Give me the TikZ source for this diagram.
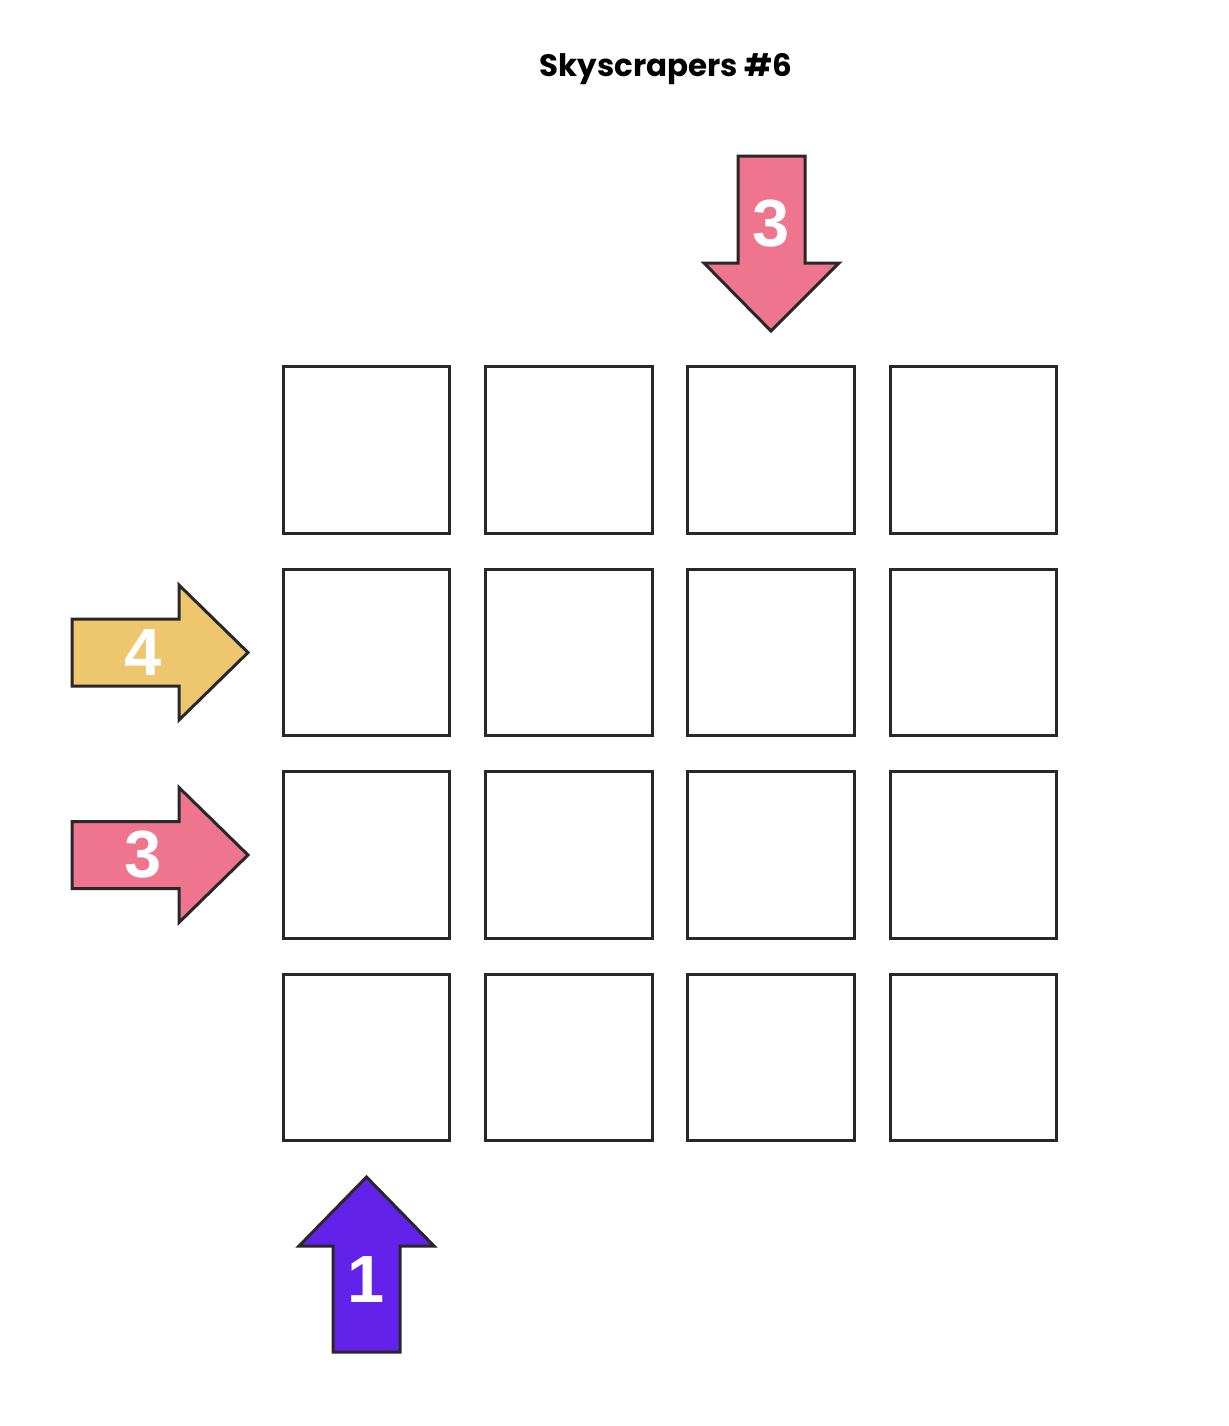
\documentclass[tikz,border=0pt]{standalone}
\usepackage{fontspec}
\setmainfont{Liberation Sans}
\newfontfamily\titlefont{Poppins}
\usepackage{tikz}
\usetikzlibrary{positioning,calc}
\definecolor{pinkA}{RGB}{238,117,141}
\definecolor{yellowA}{RGB}{238,198,109}
\definecolor{purpleA}{RGB}{99,34,233}
\definecolor{darkline}{RGB}{40,40,40}

\begin{document}
\begin{tikzpicture}
  [x=0.02cm,y=-0.02cm,
   cellN/.style={rectangle,draw=darkline,line width=0.06cm,minimum size=3.34cm,inner sep=0pt,fill=white},
   arrowS/.style={draw=darkline,line width=0.06cm,line join=miter},
   digitN/.style={text=white,font=\fontsize{38}{40}\selectfont\bfseries,inner sep=0pt},
   titleN/.style={font=\titlefont\fontsize{17.6}{20}\selectfont\bfseries}]

  \useasboundingbox (0,0) rectangle (1228,1426);

  \node[titleN] (title) at (666,69) {Skyscrapers \#6};

  % grid
  \node[cellN] (c11) at (366.5,450) {}; \node[cellN] (c12) at (569,450) {};
  \node[cellN] (c13) at (771,450) {};   \node[cellN] (c14) at (973.5,450) {};

  \node[cellN] (c21) at (366.5,652.5) {}; \node[cellN] (c22) at (569,652.5) {};
  \node[cellN] (c23) at (771,652.5) {};   \node[cellN] (c24) at (973.5,652.5) {};

  \node[cellN] (c31) at (366.5,855) {}; \node[cellN] (c32) at (569,855) {};
  \node[cellN] (c33) at (771,855) {};   \node[cellN] (c34) at (973.5,855) {};

  \node[cellN] (c41) at (366.5,1057.5) {}; \node[cellN] (c42) at (569,1057.5) {};
  \node[cellN] (c43) at (771,1057.5) {};   \node[cellN] (c44) at (973.5,1057.5) {};

  % clues
  \draw[arrowS,fill=pinkA] (738,156) -- (805,156) -- (805,263) -- (839,263)
    -- (771,331) -- (704,263) -- (738,263) -- cycle;
  \node[digitN] (top3) at (771,224) {3};

  \draw[arrowS,fill=yellowA] (72,619) -- (179,619) -- (179,585) -- (248,652.5)
    -- (179,720) -- (179,686) -- (72,686) -- cycle;
  \node[digitN] (left4) at (143,652.5) {4};

  \draw[arrowS,fill=pinkA] (72,821.5) -- (179,821.5) -- (179,787.5) -- (248,855)
    -- (179,922.5) -- (179,888.5) -- (72,888.5) -- cycle;
  \node[digitN] (left3) at (143,855) {3};

  \draw[arrowS,fill=purpleA] (333,1352) -- (400,1352) -- (400,1246) -- (434,1246)
    -- (366.5,1177) -- (299,1246) -- (333,1246) -- cycle;
  \node[digitN] (bot1) at (366.5,1280) {1};
\end{tikzpicture}
\end{document}
